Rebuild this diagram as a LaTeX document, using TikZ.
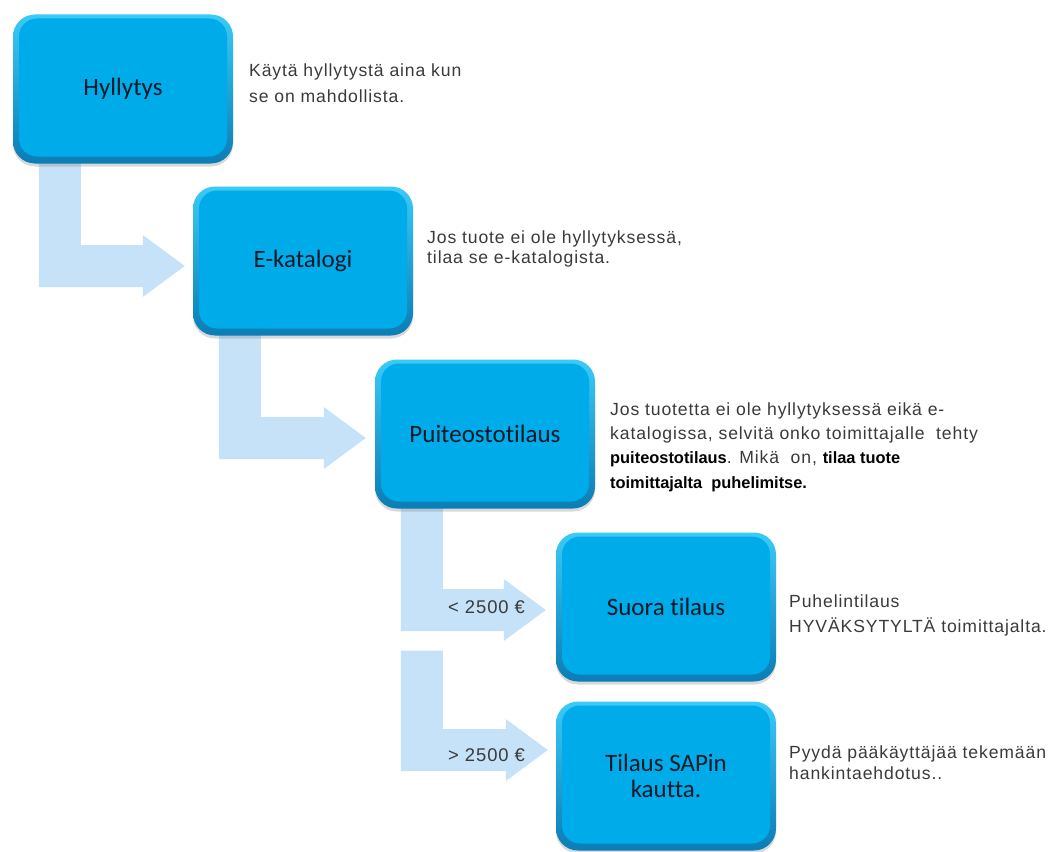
\documentclass[tikz,border=0pt]{standalone}
\usepackage{fontspec}
\setmainfont{Liberation Sans}[LetterSpace=5, BoldFeatures={LetterSpace=0}]
\newfontfamily\boxfont{Carlito}[Ligatures=NoCommon]
\usetikzlibrary{calc,shadows,backgrounds}

\definecolor{flowblue}{HTML}{C6E2F8}
\definecolor{facecol}{HTML}{00ABEA}
\definecolor{rimtop}{HTML}{3ACBF8}
\definecolor{rimbottom}{HTML}{0A7DB4}
\definecolor{desctext}{HTML}{3A3A3A}
\definecolor{labeltext}{HTML}{0A1A28}

% L-shaped arrow: #1 = top of the vertical bar (centre), #2 = arrow tip
\newcommand\flowarrow[2]{%
  \fill[flow] ($(#1)+(-21,0)$) -- ($(#1|-#2)+(-21,21)$) -- ($(#2)+(-42,21)$)
    -- ($(#2)+(-42,31)$) -- (#2) -- ($(#2)+(-42,-31)$) -- ($(#2)+(-42,-21)$)
    -- ($(#1|-#2)+(21,-21)$) -- ($(#1)+(21,0)$) -- cycle;}

% emphasised words in the explanations
\newcommand\strongtext[1]{{\color{black}\fontsize{16.4}{24}\selectfont\bfseries #1}}

\begin{document}
\begin{tikzpicture}[x=1pt,y=-1pt,
  flow/.style={fill=flowblue},
  stepbox/.style={rounded corners=22pt, minimum width=220pt, minimum height=149pt,
    inner sep=0pt, top color=rimtop, bottom color=rimbottom, align=center,
    font=\boxfont\fontsize{25}{28}\selectfont, text=labeltext,
    drop shadow={shadow xshift=0pt, shadow yshift=-3pt, opacity=0.3},
    path picture={\fill[facecol, rounded corners=18pt]
      ($(path picture bounding box.north west)+(6,4)$) rectangle
      ($(path picture bounding box.south east)+(-6,-7)$);}},
  desc/.style={anchor=base west, inner sep=0pt, align=left, text=desctext,
    font=\fontsize{17.6}{24.3}\selectfont},
  amount/.style={anchor=base west, inner sep=0pt, text=desctext,
    font=\fontsize{18.4}{24}\selectfont}]
\useasboundingbox (0,0) rectangle (1057,851);

% process steps
\node[stepbox] (b1) at (123,89) {Hyllytys};
\node[stepbox] (b2) at (303,261) {E-katalogi};
\node[stepbox] (b3) at (485,434) {Puiteostotilaus};
\node[stepbox] (b4) at (666,607) {Suora tilaus};
\node[stepbox] (b5) at (666,776) {Tilaus SAPin\\[-2pt]kautta.};

% arrows between the steps
\coordinate (s1) at ($(b1.south west)+(47,-6)$);
\coordinate (t1) at ($(b2.west)+(-8,5)$);
\coordinate (s2) at ($(b2.south west)+(47,-6)$);
\coordinate (t2) at ($(b3.west)+(-9,4)$);
\coordinate (s3) at ($(b3.south west)+(47,-6)$);
\coordinate (t3) at ($(b4.west)+(-10,3)$);
\coordinate (s4) at ($(b3.south west)+(47,142)$);
\coordinate (t4) at ($(b5.west)+(-8,-26)$);
\begin{scope}[on background layer]
  \flowarrow{s1}{t1}
  \flowarrow{s2}{t2}
  \flowarrow{s3}{t3}
  \flowarrow{s4}{t4}
\end{scope}

% amount limits on the last two arrows
\node[amount] (lo) at (448,613) {< 2500 €};
\node[amount] (hi) at (448,761) {> 2500 €};

% explanations (anchored at the baseline of their last line)
\node[desc, font=\fontsize{17.6}{25}\selectfont] (d1) at (249,102)
  {Käytä hyllytystä aina\ kun\\se on mahdollista.};
\node[desc, font=\fontsize{17.6}{20}\selectfont] (d2) at (427,263)
  {Jos tuote ei ole hyllytyksessä,\\tilaa\ se e-katalogista.};
\node[desc] (d3) at (610,488)
  {Jos tuotetta ei ole hyllytyksessä eikä e-\\
   katalogissa, selvitä onko toimittajalle\ \ tehty\\
   \strongtext{puiteostotilaus}. Mikä\ \ on, \strongtext{tilaa tuote}\\
   \strongtext{toimittajalta\ \ puhelimitse.}};
\node[desc] (d4) at (789,632) {Puhelintilaus\\HYVÄKSYTYLTÄ toimittajalta.};
\node[desc, font=\fontsize{17.6}{21}\selectfont] (d5) at (789,779)
  {Pyydä pääkäyttäjää tekemään\\hankintaehdotus..};
\end{tikzpicture}
\end{document}
